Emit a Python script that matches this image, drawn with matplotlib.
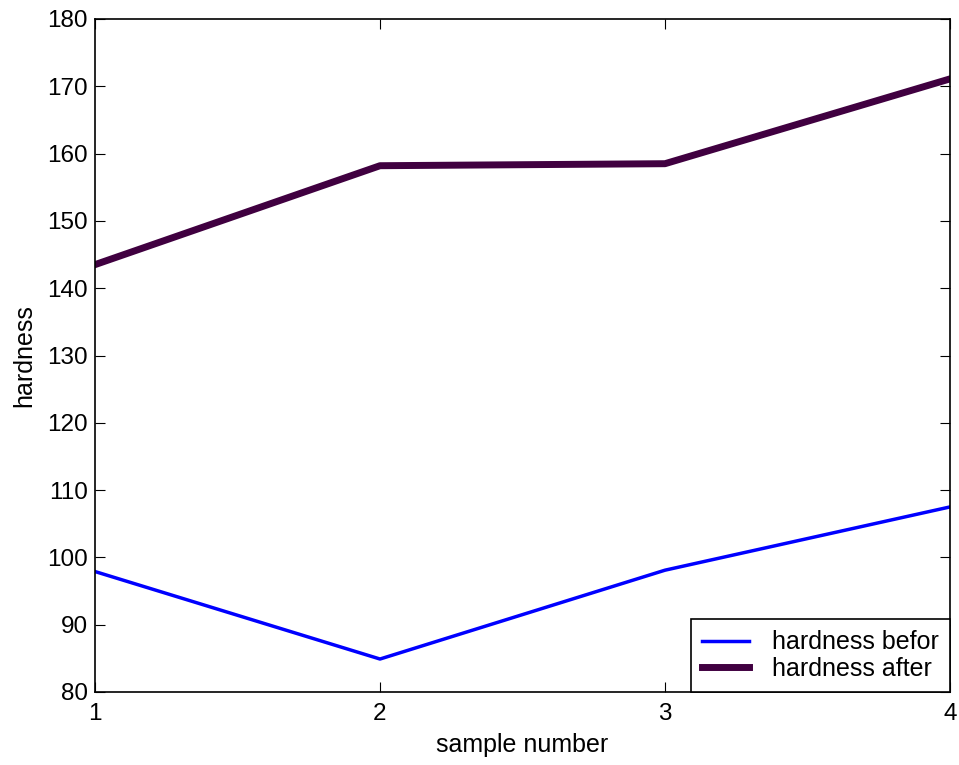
import matplotlib
matplotlib.use("Agg")
import matplotlib.pyplot as plt

plt.rcParams['font.family'] = ['Liberation Sans', 'DejaVu Sans']

# data
samples = [1, 2, 3, 4]
hardness_before = [97.9, 84.9, 98.1, 107.5]
hardness_after = [143.5, 158.2, 158.5, 171.1]

fig = plt.figure(figsize=(9.59, 7.65), dpi=100)
ax = fig.add_axes([95 / 959, 1 - 692 / 765, 855 / 959, 673 / 765])

ax.plot(samples, hardness_before, color=(0, 0, 1), lw=2.5, label='hardness befor')
ax.plot(samples, hardness_after, color='#400040', lw=5, label='hardness after')

ax.set_xlim(1, 4)
ax.set_ylim(80, 180)
ax.set_xticks(samples)
ax.set_yticks(range(80, 181, 10))
ax.tick_params(direction='in', top=True, right=True, labelsize=17.5, length=7, width=0.8)
ax.tick_params(axis='x', pad=8)
ax.tick_params(axis='y', pad=5)
for s in ax.spines.values():
    s.set_linewidth(1.2)

ax.set_xlabel('sample number', fontsize=18, labelpad=6)
ax.set_ylabel('hardness', fontsize=18, labelpad=8)

leg = ax.legend(loc='lower right', fontsize=18, fancybox=False, framealpha=1,
                edgecolor='black', borderaxespad=0, handlelength=1.9,
                handletextpad=0.9, labelspacing=0.1, borderpad=0.45)
leg.get_frame().set_linewidth(1.2)

fig.savefig('out.png', dpi=100)
